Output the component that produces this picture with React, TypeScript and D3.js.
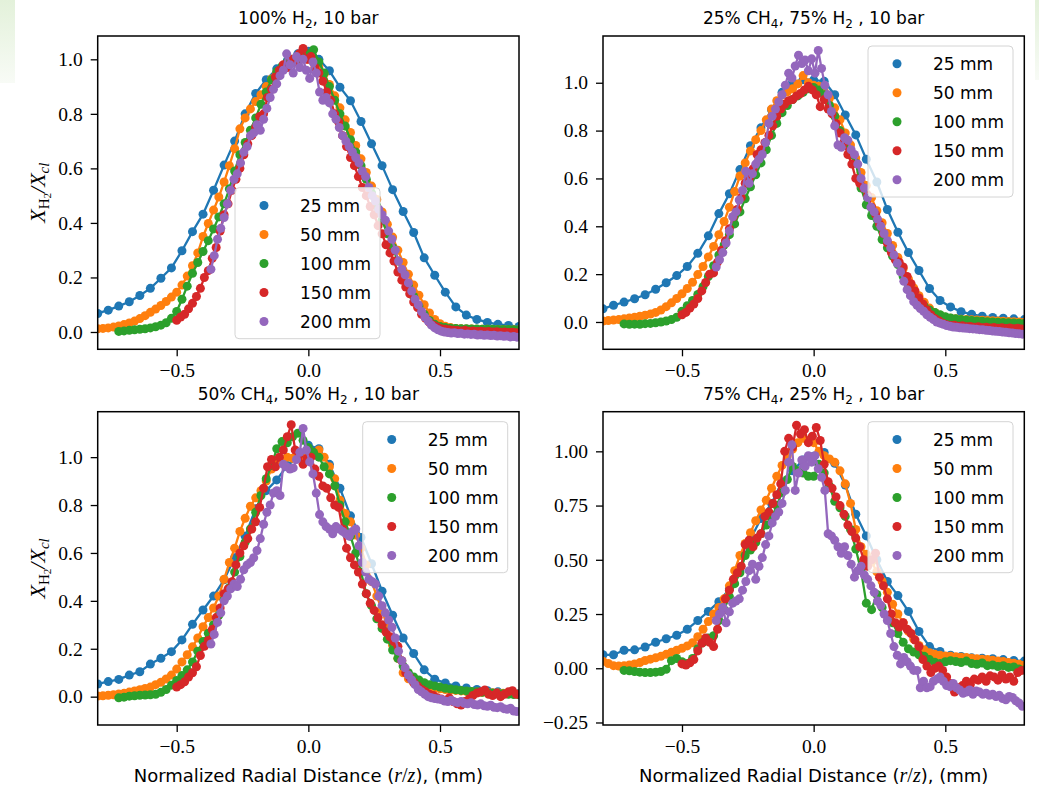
import { useEffect, useRef } from "react"
import * as d3 from "d3"

const WIDTH = 1039
const HEIGHT = 795

const distances = ["25 mm", "50 mm", "100 mm", "150 mm", "200 mm"]
const colors = ["#1f77b4", "#ff7f0e", "#2ca02c", "#d62728", "#9467bd"]
// r/z of the first probe point and the probe spacing, per downstream distance
const rStart = [-0.8, -0.8, -0.72, -0.5, -0.37]
const rStep = [0.04, 0.02, 0.02, 0.015, 0.0125]

const xTicks = [-0.5, 0, 0.5]
const yTicksTenths = [0, 0.2, 0.4, 0.6, 0.8, 1.0]
const yTicksQuarters = [-0.25, 0, 0.25, 0.5, 0.75, 1.0]

// ---- 100% H2 ----
const h2_25 = [
    0.068, 0.080, 0.095, 0.111, 0.134, 0.160, 0.197, 0.235, 0.298, 0.368,
    0.432, 0.520, 0.612, 0.700, 0.800, 0.875, 0.925, 0.965, 0.995, 1.020,
    1.030, 1.000, 0.958, 0.898, 0.848, 0.772, 0.690, 0.610, 0.522, 0.442,
    0.365, 0.272, 0.208, 0.146, 0.092, 0.062, 0.046, 0.035, 0.028, 0.024,
    0.020,
]
const h2_50 = [
    0.012, 0.013, 0.015, 0.018, 0.022, 0.027, 0.033, 0.040, 0.049, 0.060,
    0.072, 0.084, 0.097, 0.112, 0.128, 0.146, 0.172, 0.205, 0.243, 0.290,
    0.350, 0.398, 0.447, 0.495, 0.550, 0.610, 0.672, 0.745, 0.785, 0.818,
    0.845, 0.870, 0.900, 0.928, 0.950, 0.968, 0.983, 0.994, 1.002, 1.005,
    1.000, 0.990, 0.972, 0.945, 0.908, 0.866, 0.822, 0.778, 0.732, 0.684,
    0.635, 0.585, 0.535, 0.486, 0.440, 0.395, 0.348, 0.300, 0.255, 0.212,
    0.172, 0.135, 0.100, 0.070, 0.046, 0.030, 0.021, 0.016, 0.013, 0.012,
    0.011, 0.011, 0.010, 0.010, 0.010, 0.009, 0.009, 0.009, 0.008, 0.008,
    0.008,
]
const h2_100 = [
    0.002, 0.004, 0.006, 0.008, 0.010, 0.012, 0.015, 0.019, 0.025, 0.034,
    0.050, 0.075, 0.120, 0.168, 0.215, 0.255, 0.295, 0.335, 0.378, 0.422,
    0.470, 0.525, 0.590, 0.650, 0.695, 0.740, 0.785, 0.835, 0.880, 0.925,
    0.955, 0.975, 0.990, 1.000, 0.990, 1.010, 1.020, 1.035, 0.990, 0.950,
    0.900, 0.850, 0.800, 0.755, 0.705, 0.660, 0.610, 0.560, 0.510, 0.460,
    0.410, 0.360, 0.310, 0.260, 0.215, 0.170, 0.130, 0.095, 0.065, 0.042,
    0.028, 0.020, 0.016, 0.014, 0.013, 0.012, 0.012, 0.011, 0.011, 0.010,
    0.010, 0.010, 0.009, 0.009, 0.009, 0.008, 0.008,
]
const h2_150 = [
    0.043, 0.055, 0.065, 0.085, 0.105, 0.13, 0.16, 0.20, 0.225, 0.27,
    0.31, 0.37, 0.43, 0.47, 0.52, 0.56, 0.60, 0.65, 0.69, 0.72,
    0.75, 0.79, 0.80, 0.86, 0.89, 0.935, 0.96, 0.98, 0.97, 1.0,
    0.99, 1.02, 1.04, 1.0, 1.01, 0.97, 0.95, 0.92, 0.88, 0.85,
    0.80, 0.77, 0.72, 0.68, 0.64, 0.61, 0.57, 0.53, 0.50, 0.46,
    0.43, 0.39, 0.36, 0.32, 0.29, 0.26, 0.22, 0.19, 0.165, 0.14,
    0.11, 0.09, 0.065, 0.05, 0.035, 0.025, 0.018, 0.012, 0.010, 0.008,
    0.006, 0.005, 0.004, 0.006, 0.003, 0.004, 0.002, 0.003, 0.001, 0.002,
    0.000, 0.001, -0.001, 0.0, -0.002, -0.001, -0.003,
]
const h2_200 = [
    0.23, 0.28, 0.34, 0.38, 0.42, 0.47, 0.52, 0.56, 0.58, 0.62,
    0.66, 0.68, 0.72, 0.73, 0.76, 0.74, 0.78, 0.82, 0.86, 0.89,
    0.91, 0.94, 0.96, 1.02, 0.98, 0.95, 1.01, 0.97, 1.0, 0.96,
    0.93, 0.99, 0.95, 0.88, 0.85, 0.86, 0.84, 0.80, 0.78, 0.75,
    0.72, 0.70, 0.68, 0.66, 0.64, 0.62, 0.59, 0.57, 0.53, 0.50,
    0.48, 0.45, 0.43, 0.41, 0.37, 0.34, 0.30, 0.26, 0.23, 0.21,
    0.18, 0.15, 0.12, 0.10, 0.075, 0.055, 0.04, 0.025, 0.015, 0.008,
    0.003, 0.0, -0.002, -0.004, -0.003, -0.006, -0.005, -0.008, -0.007, -0.009,
    -0.008, -0.011, -0.010, -0.012, -0.011, -0.013, -0.012, -0.015, -0.014, -0.016,
    -0.015, -0.018, -0.017, -0.019,
]

// ---- 25% CH4, 75% H2 ----
const c25_25 = [
    0.055, 0.070, 0.083, 0.097, 0.114, 0.137, 0.164, 0.194, 0.232, 0.287,
    0.36, 0.453, 0.536, 0.637, 0.737, 0.812, 0.887, 0.96, 1.003, 1.013,
    1.012, 1.006, 0.95, 0.865, 0.782, 0.68, 0.585, 0.47, 0.375, 0.29,
    0.215, 0.14, 0.09, 0.063, 0.043, 0.032, 0.024, 0.019, 0.016, 0.013,
    0.010,
]
const c25_50 = [
    0.004, 0.006, 0.008, 0.010, 0.013, 0.017, 0.020, 0.024, 0.028, 0.033,
    0.040, 0.050, 0.064, 0.080, 0.098, 0.118, 0.140, 0.166, 0.198, 0.232,
    0.272, 0.316, 0.365, 0.420, 0.480, 0.545, 0.610, 0.665, 0.715, 0.762,
    0.800, 0.845, 0.890, 0.925, 0.948, 0.962, 0.975, 0.995, 1.03, 1.0,
    0.99, 0.985, 0.965, 0.935, 0.895, 0.845, 0.79, 0.74, 0.685, 0.625,
    0.57, 0.52, 0.465, 0.415, 0.37, 0.32, 0.27, 0.222, 0.18, 0.142,
    0.11, 0.082, 0.058, 0.04, 0.028, 0.02, 0.016, 0.013, 0.011, 0.010,
    0.009, 0.008, 0.007, 0.006, 0.005, 0.004, 0.003, 0.002, 0.001, 0.0,
    -0.001,
]
const c25_100 = [
    -0.008, -0.010, -0.009, -0.010, -0.007, -0.006, -0.003, 0.000, 0.004, 0.010,
    0.020, 0.045, 0.068, 0.090, 0.115, 0.148, 0.190, 0.235, 0.280, 0.322,
    0.365, 0.41, 0.46, 0.515, 0.565, 0.615, 0.665, 0.72, 0.78, 0.83,
    0.875, 0.905, 0.93, 0.945, 0.96, 0.975, 0.98, 0.97, 0.95, 0.905,
    0.86, 0.80, 0.75, 0.70, 0.665, 0.56, 0.49, 0.445, 0.40, 0.345,
    0.31, 0.275, 0.24, 0.19, 0.145, 0.11, 0.085, 0.065, 0.05, 0.04,
    0.03, 0.022, 0.017, 0.013, 0.01, 0.008, 0.006, 0.004, 0.003, 0.001,
    0.0, -0.001, -0.002, -0.003, -0.004, -0.005, -0.006,
]
const c25_150 = [
    0.030, 0.040, 0.058, 0.075, 0.098, 0.13, 0.165, 0.20, 0.205, 0.25,
    0.30, 0.34, 0.39, 0.44, 0.47, 0.52, 0.58, 0.60, 0.64, 0.70,
    0.72, 0.75, 0.78, 0.82, 0.86, 0.89, 0.91, 0.925, 0.93, 0.945,
    0.955, 0.97, 0.985, 0.97, 0.95, 0.90, 0.93, 0.89, 0.87, 0.83,
    0.79, 0.75, 0.70, 0.66, 0.60, 0.58, 0.56, 0.53, 0.48, 0.45,
    0.41, 0.37, 0.33, 0.29, 0.26, 0.25, 0.23, 0.19, 0.16, 0.13,
    0.10, 0.075, 0.05, 0.03, 0.015, 0.005, -0.005, -0.012, -0.015, -0.014,
    -0.018, -0.016, -0.020, -0.019, -0.022, -0.020, -0.024, -0.022, -0.025, -0.023,
    -0.026, -0.024, -0.027, -0.025, -0.028, -0.026, -0.029,
]
const c25_200 = [
    0.23, 0.26, 0.29, 0.33, 0.38, 0.44, 0.46, 0.51, 0.55, 0.63,
    0.58, 0.62, 0.66, 0.68, 0.70, 0.75, 0.83, 0.86, 0.89, 0.92,
    0.95, 0.99, 1.04, 1.02, 1.07, 1.115, 1.08, 1.095, 1.05, 1.10,
    1.04, 1.135, 1.06, 0.99, 0.95, 0.88, 0.82, 0.74, 0.73, 0.77,
    0.76, 0.72, 0.70, 0.66, 0.60, 0.56, 0.52, 0.48, 0.46, 0.43,
    0.40, 0.37, 0.34, 0.31, 0.28, 0.245, 0.21, 0.17, 0.135, 0.11,
    0.085, 0.07, 0.056, 0.045, 0.03, 0.02, 0.01, 0.0, -0.005, -0.01,
    -0.015, -0.018, -0.021, -0.022, -0.024, -0.025, -0.026, -0.028, -0.029, -0.030,
    -0.032, -0.033, -0.035, -0.036, -0.038, -0.039, -0.040, -0.042, -0.043, -0.045,
    -0.046, -0.048, -0.049, -0.051,
]

// ---- 50% CH4, 50% H2 ----
const c50_25 = [
    0.053, 0.063, 0.072, 0.090, 0.104, 0.136, 0.160, 0.188, 0.237, 0.302,
    0.362, 0.42, 0.488, 0.58, 0.67, 0.785, 0.86, 0.905, 0.965, 1.0,
    1.05, 1.035, 0.97, 0.87, 0.755, 0.665, 0.555, 0.44, 0.34, 0.245,
    0.18, 0.112, 0.073, 0.057, 0.045, 0.036, 0.030, 0.025, 0.020, 0.017,
    0.013,
]
const c50_50 = [
    0.003, 0.004, 0.006, 0.008, 0.011, 0.014, 0.019, 0.024, 0.029, 0.034,
    0.040, 0.050, 0.060, 0.074, 0.090, 0.115, 0.145, 0.175, 0.208, 0.245,
    0.292, 0.33, 0.37, 0.42, 0.49, 0.56, 0.62, 0.69, 0.745, 0.795,
    0.83, 0.86, 0.90, 0.95, 0.975, 0.99, 1.0, 0.995, 1.01, 1.0,
    1.005, 1.01, 1.03, 1.0, 0.96, 0.91, 0.82, 0.765, 0.73, 0.675,
    0.62, 0.55, 0.48, 0.42, 0.36, 0.29, 0.215, 0.16, 0.10, 0.075,
    0.058, 0.05, 0.044, 0.04, 0.036, 0.033, 0.030, 0.028, 0.026, 0.024,
    0.022, 0.020, 0.019, 0.018, 0.017, 0.016, 0.015, 0.014, 0.013, 0.012,
    0.011,
]
const c50_100 = [
    -0.005, -0.002, 0.002, 0.004, 0.006, 0.007, 0.008, 0.010, 0.018, 0.030,
    0.048, 0.068, 0.088, 0.112, 0.145, 0.19, 0.23, 0.265, 0.30, 0.34,
    0.405, 0.455, 0.52, 0.585, 0.645, 0.70, 0.77, 0.84, 0.91, 0.965,
    1.035, 1.065, 1.06, 1.085, 1.10, 1.07, 1.04, 1.02, 1.0, 0.96,
    0.93, 0.88, 0.80, 0.73, 0.67, 0.60, 0.52, 0.43, 0.38, 0.325,
    0.285, 0.24, 0.195, 0.16, 0.128, 0.10, 0.082, 0.07, 0.058, 0.05,
    0.045, 0.04, 0.035, 0.032, 0.029, 0.026, 0.024, 0.022, 0.020, 0.018,
    0.016, 0.015, 0.013, 0.012, 0.010, 0.009, 0.008,
]
const c50_150 = [
    0.040, 0.050, 0.062, 0.082, 0.100, 0.125, 0.172, 0.21, 0.235, 0.28,
    0.33, 0.37, 0.43, 0.45, 0.48, 0.55, 0.60, 0.63, 0.66, 0.70,
    0.73, 0.79, 0.87, 0.96, 0.99, 0.96, 1.0, 1.03, 1.085, 1.135,
    1.03, 1.01, 0.97, 0.995, 1.0, 0.95, 0.92, 0.88, 0.87, 0.83,
    0.80, 0.79, 0.70, 0.62, 0.58, 0.55, 0.52, 0.47, 0.43, 0.39,
    0.36, 0.33, 0.30, 0.27, 0.25, 0.23, 0.21, 0.15, 0.10, 0.08,
    0.06, 0.045, 0.03, 0.02, 0.01, 0.005, -0.005, -0.01, -0.015, -0.005,
    -0.02, -0.03, -0.035, -0.02, -0.01, 0.005, 0.015, 0.02, 0.028, 0.01,
    0.005, 0.015, 0.0, 0.01, 0.02, 0.025, 0.01,
]
const c50_200 = [
    0.22, 0.26, 0.31, 0.35, 0.40, 0.42, 0.45, 0.47, 0.46, 0.49,
    0.53, 0.55, 0.56, 0.58, 0.61, 0.66, 0.72, 0.77, 0.80, 0.85,
    0.86, 0.84, 0.97, 0.96, 0.95, 0.955, 0.99, 1.02, 1.12, 1.03,
    0.98, 0.93, 0.85, 0.76, 0.73, 0.71, 0.70, 0.68, 0.71, 0.70,
    0.69, 0.68, 0.67, 0.69, 0.70, 0.63, 0.56, 0.52, 0.49, 0.48,
    0.47, 0.42, 0.38, 0.35, 0.32, 0.29, 0.245, 0.19, 0.15, 0.12,
    0.09, 0.07, 0.05, 0.03, 0.02, 0.01, 0.0, -0.005, -0.008, -0.01,
    -0.012, -0.018, -0.02, -0.015, -0.022, -0.025, -0.02, -0.028, -0.03, -0.025,
    -0.033, -0.035, -0.03, -0.038, -0.04, -0.036, -0.044, -0.046, -0.042, -0.05,
    -0.053, -0.048, -0.06, -0.062,
]

// ---- 75% CH4, 25% H2 ----
const c75_25 = [
    0.062, 0.062, 0.083, 0.085, 0.098, 0.12, 0.136, 0.152, 0.18, 0.22,
    0.262, 0.307, 0.366, 0.45, 0.595, 0.69, 0.76, 0.86, 0.91, 0.96,
    0.977, 0.995, 0.945, 0.845, 0.71, 0.61, 0.50, 0.40, 0.335, 0.262,
    0.17, 0.10, 0.077, 0.06, 0.054, 0.048, 0.046, 0.044, 0.040, 0.036,
    0.033,
]
const c75_50 = [
    0.032, 0.022, 0.012, 0.010, 0.012, 0.015, 0.020, 0.026, 0.036, 0.042,
    0.048, 0.055, 0.064, 0.074, 0.083, 0.092, 0.103, 0.118, 0.145, 0.18,
    0.215, 0.25, 0.28, 0.32, 0.38, 0.45, 0.52, 0.575, 0.625, 0.68,
    0.73, 0.775, 0.83, 0.885, 0.935, 0.98, 1.01, 1.04, 1.06, 1.05,
    1.04, 1.0, 0.98, 0.965, 0.95, 0.91, 0.85, 0.76, 0.64, 0.56,
    0.525, 0.49, 0.445, 0.40, 0.35, 0.295, 0.25, 0.21, 0.17, 0.135,
    0.105, 0.085, 0.072, 0.064, 0.06, 0.057, 0.055, 0.053, 0.051, 0.049,
    0.046, 0.044, 0.042, 0.040, 0.037, 0.034, 0.031, 0.027, 0.023, 0.018,
    0.014,
]
const c75_100 = [
    -0.010, -0.012, -0.015, -0.018, -0.020, -0.020, -0.018, -0.015, -0.005, 0.035,
    0.045, 0.03, 0.022, 0.045, 0.09, 0.12, 0.14, 0.15, 0.22, 0.27,
    0.33, 0.39, 0.44, 0.52, 0.545, 0.58, 0.62, 0.66, 0.69, 0.75,
    0.81, 0.87, 0.93, 0.91, 0.90, 0.885, 0.885, 0.94, 0.90, 0.84,
    0.77, 0.74, 0.70, 0.64, 0.55, 0.45, 0.30, 0.27, 0.34, 0.28,
    0.24, 0.21, 0.16, 0.12, 0.09, 0.075, 0.062, 0.055, 0.04, 0.028,
    0.022, 0.03, 0.035, 0.031, 0.026, 0.033, 0.022, 0.018, 0.024, 0.012,
    0.015, 0.008, 0.012, 0.004, 0.006, -0.004, -0.008,
]
const c75_150 = [
    0.02, 0.015, 0.025, 0.04, 0.08, 0.115, 0.14, 0.12, 0.10, 0.18,
    0.26, 0.32, 0.36, 0.41, 0.44, 0.47, 0.57, 0.59, 0.56, 0.60,
    0.62, 0.70, 0.72, 0.76, 0.80, 0.85, 1.0, 1.06, 1.02, 1.12,
    1.08, 1.10, 1.04, 1.07, 1.11, 1.05, 0.94, 0.86, 0.83, 0.79,
    0.75, 0.71, 0.66, 0.63, 0.60, 0.56, 0.50, 0.47, 0.50, 0.53,
    0.42, 0.38, 0.32, 0.25, 0.21, 0.19, 0.21, 0.18, 0.16, 0.13,
    0.10, 0.04, 0.01, -0.02, 0.0, 0.01, -0.01, -0.04, -0.07, -0.11,
    -0.09, -0.08, -0.06, -0.075, -0.05, -0.055, -0.04, -0.06, -0.035, -0.04,
    -0.055, -0.03, -0.05, -0.04, -0.06, -0.02, -0.01,
]
const c75_200 = [
    0.22, 0.25, 0.28, 0.21, 0.26, 0.30, 0.31, 0.32, 0.36, 0.40,
    0.45, 0.48, 0.41, 0.47, 0.51, 0.57, 0.61, 0.67, 0.70, 0.72,
    0.76, 0.82, 0.95, 1.03, 0.82, 0.90, 0.96, 0.93, 0.98, 0.95,
    0.98, 0.92, 0.88, 0.82, 0.62, 0.61, 0.59, 0.56, 0.53, 0.56,
    0.52, 0.48, 0.42, 0.45, 0.47, 0.43, 0.41, 0.38, 0.35, 0.31,
    0.29, 0.25, 0.22, 0.16, 0.10, 0.06, 0.02, 0.05, 0.03, 0.01,
    -0.01, -0.01, -0.09, -0.06, -0.09, -0.085, -0.06, -0.05, -0.04, -0.06,
    -0.08, -0.085, -0.07, -0.09, -0.10, -0.115, -0.11, -0.10, -0.12, -0.105,
    -0.11, -0.12, -0.115, -0.125, -0.12, -0.13, -0.125, -0.14, -0.145, -0.13,
    -0.135, -0.15, -0.16, -0.175,
]

// title pieces: [text, isSubscript]
const panels = [
    {
        title: [["100% H", false], ["2", true], [", 10 bar", false]],
        series: [h2_25, h2_50, h2_100, h2_150, h2_200],
        yDomain: [-0.0635, 1.0855], yTicks: yTicksTenths, fmt: ".1f",
        col: 0, row: 0, legend: "lower",
    },
    {
        title: [["25% CH", false], ["4", true], [", 75% H", false], ["2", true], [" , 10 bar", false]],
        series: [c25_25, c25_50, c25_100, c25_150, c25_200],
        yDomain: [-0.1142, 1.1954], yTicks: yTicksTenths, fmt: ".1f",
        col: 1, row: 0, legend: "upper right",
    },
    {
        title: [["50% CH", false], ["4", true], [", 50% H", false], ["2", true], [" , 10 bar", false]],
        series: [c50_25, c50_50, c50_100, c50_150, c50_200],
        yDomain: [-0.1183, 1.1897], yTicks: yTicksTenths, fmt: ".1f",
        col: 0, row: 1, legend: "upper right",
    },
    {
        title: [["75% CH", false], ["4", true], [", 25% H", false], ["2", true], [" , 10 bar", false]],
        series: [c75_25, c75_50, c75_100, c75_150, c75_200],
        yDomain: [-0.2616, 1.1827], yTicks: yTicksQuarters, fmt: ".2f",
        col: 1, row: 1, legend: "upper right",
    },
]

const colLeft = [97.7, 603]
const rowTop = [36, 411.7]
const AX_W = 421.3
const AX_H = 313.3
const SANS = "'DejaVu Sans', sans-serif"
const SERIF = "'Liberation Serif', serif"
const DOT_R = 4.5

export default function App() {
    const ref = useRef<SVGSVGElement | null>(null)

    useEffect(() => {
        const svg = d3.select(ref.current)
        svg.selectAll("*").remove()

        const defs = svg.append("defs")
        const grad = defs.append("linearGradient").attr("id", "tint").attr("x1", 0).attr("y1", 0).attr("x2", 0).attr("y2", 1)
        grad.append("stop").attr("offset", "0%").attr("stop-color", "#e3f1da")
        grad.append("stop").attr("offset", "100%").attr("stop-color", "#f8fbf6")
        svg.append("rect").attr("x", 0).attr("y", 0).attr("width", 15).attr("height", 83).attr("fill", "url(#tint)")
        svg.append("rect").attr("x", 1035).attr("y", 0).attr("width", 4).attr("height", 80).attr("fill", "url(#tint)")

        panels.forEach((p, i) => {
            const left = colLeft[p.col]
            const top = rowTop[p.row]
            const x = d3.scaleLinear().domain([-0.8, 0.8]).range([left, left + AX_W])
            const y = d3.scaleLinear().domain(p.yDomain).range([top + AX_H, top])

            const clipId = `clip-${i}`
            defs.append("clipPath").attr("id", clipId)
                .append("rect").attr("x", left).attr("y", top).attr("width", AX_W).attr("height", AX_H)

            const plot = svg.append("g").attr("clip-path", `url(#${clipId})`)
            const line = d3.line<[number, number]>().x(d => x(d[0])).y(d => y(d[1]))

            p.series.forEach((vals, k) => {
                const pts: [number, number][] = vals.map((v, j) => [rStart[k] + j * rStep[k], v])
                plot.append("path")
                    .datum(pts)
                    .attr("d", line)
                    .attr("fill", "none")
                    .attr("stroke", colors[k])
                    .attr("stroke-width", 2.3)
                    .attr("stroke-linejoin", "round")
                plot.append("g")
                    .selectAll("circle")
                    .data(pts)
                    .join("circle")
                    .attr("cx", d => x(d[0]))
                    .attr("cy", d => y(d[1]))
                    .attr("r", DOT_R)
                    .attr("fill", colors[k])
            })

            // axes
            const xAxis = svg.append("g")
                .attr("transform", `translate(0,${top + AX_H})`)
                .call(d3.axisBottom(x).tickValues(xTicks).tickSize(7).tickPadding(7).tickFormat(d3.format(".1f")))
            const yAxis = svg.append("g")
                .attr("transform", `translate(${left},0)`)
                .call(d3.axisLeft(y).tickValues(p.yTicks).tickSize(7).tickPadding(8).tickFormat(d3.format(p.fmt)))
            ;[xAxis, yAxis].forEach(a => {
                a.select(".domain").remove()
                a.selectAll("line").attr("stroke", "#000").attr("stroke-width", 1.3)
                a.selectAll("text").attr("font-family", SERIF).attr("font-size", 19.5).attr("fill", "#000")
            })

            svg.append("rect")
                .attr("x", left).attr("y", top).attr("width", AX_W).attr("height", AX_H)
                .attr("fill", "none").attr("stroke", "#000").attr("stroke-width", 1.5)

            // title
            const title = svg.append("text")
                .attr("x", left + AX_W / 2).attr("y", top - 12)
                .attr("text-anchor", "middle").attr("font-family", SANS).attr("font-size", 17)
            let wasSub = false
            p.title.forEach(([t, sub]) => {
                const ts = title.append("tspan").text(t as string)
                if (sub) ts.attr("font-size", 12).attr("dy", 4)
                else if (wasSub) ts.attr("dy", -4)
                wasSub = sub as boolean
            })

            if (p.col === 0) {
                const yl = svg.append("text")
                    .attr("transform", `translate(${left - 53},${top + AX_H / 2}) rotate(-90)`)
                    .attr("text-anchor", "middle").attr("font-family", SERIF).attr("font-size", 22)
                yl.append("tspan").attr("font-style", "italic").text("X")
                yl.append("tspan").attr("font-size", 15).attr("dy", 4).text("H")
                yl.append("tspan").attr("font-size", 11).attr("dy", 2).text("2")
                yl.append("tspan").attr("dy", -6).attr("font-style", "italic").text("/X")
                yl.append("tspan").attr("font-size", 15).attr("dy", 4).attr("font-style", "italic").text("cl")
            }

            if (p.row === 1) {
                const xl = svg.append("text")
                    .attr("x", left + AX_W / 2).attr("y", top + AX_H + 57)
                    .attr("text-anchor", "middle").attr("font-family", SANS).attr("font-size", 18)
                xl.append("tspan").text("Normalized Radial Distance (")
                xl.append("tspan").attr("font-family", SERIF).attr("font-style", "italic").attr("font-size", 20).text("r")
                xl.append("tspan").attr("font-family", SERIF).attr("font-size", 20).text("/")
                xl.append("tspan").attr("font-family", SERIF).attr("font-style", "italic").attr("font-size", 20).text("z")
                xl.append("tspan").text("), (mm)")
            }

            // legend
            const lw = 145
            const lh = 151
            const lx = p.legend === "lower" ? left + 137.3 : left + AX_W - 11.3 - lw
            const ly = p.legend === "lower" ? top + 151.7 : top + 10
            const lg = svg.append("g")
            lg.append("rect")
                .attr("x", lx).attr("y", ly).attr("width", lw).attr("height", lh).attr("rx", 4)
                .attr("fill", "#fff").attr("fill-opacity", 0.8)
                .attr("stroke", "#d4d4d4").attr("stroke-width", 1)
            distances.forEach((label, k) => {
                const ry = ly + 17.8 + k * 29
                lg.append("circle").attr("cx", lx + 29).attr("cy", ry).attr("r", DOT_R).attr("fill", colors[k])
                lg.append("text")
                    .attr("x", lx + 65).attr("y", ry + 6.5)
                    .attr("font-family", SANS).attr("font-size", 17).attr("fill", "#000")
                    .text(label)
            })
        })
    }, [])

    return (
        <>
            <style>{"body{margin:0;background:#fff}"}</style>
            <svg ref={ref} width={WIDTH} height={HEIGHT} style={{ display: "block" }} />
        </>
    )
}
